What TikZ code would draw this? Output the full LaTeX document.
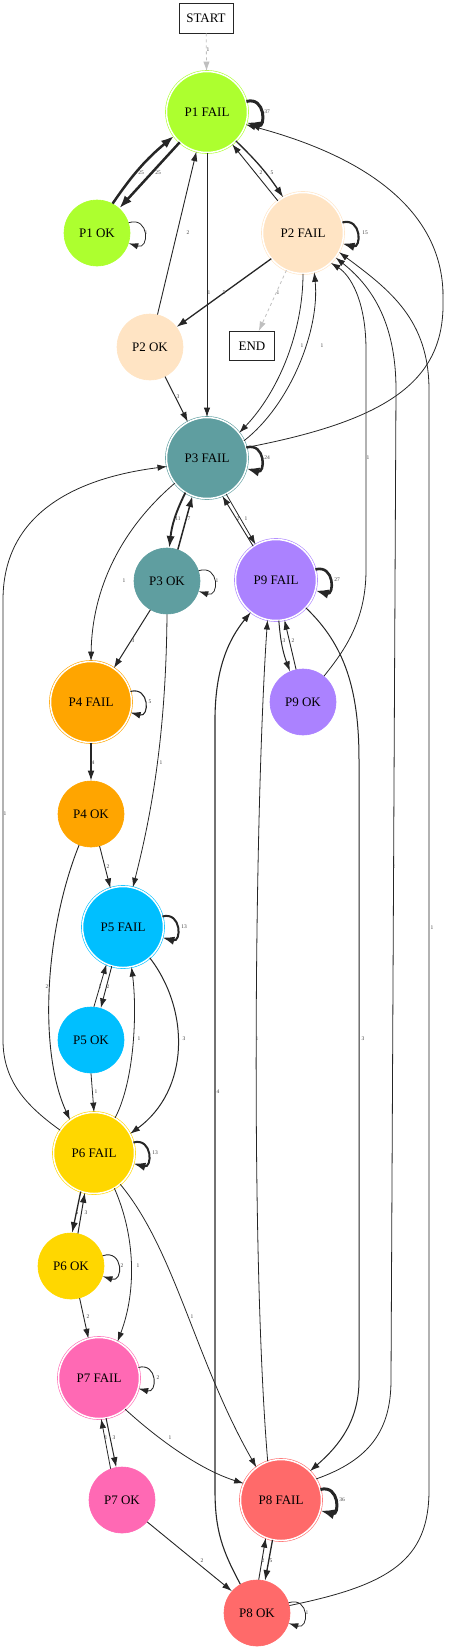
\documentclass[tikz,border=0pt]{standalone}
\usepackage{fontspec}
\setmainfont{Liberation Serif}
\usepackage{tikz}
\usetikzlibrary{arrows.meta}
\definecolor{cP1}{HTML}{ADFF2F}
\definecolor{cP2}{HTML}{FFE4C4}
\definecolor{cP3}{HTML}{5F9EA0}
\definecolor{cP4}{HTML}{FFA500}
\definecolor{cP5}{HTML}{00BFFF}
\definecolor{cP6}{HTML}{FFD700}
\definecolor{cP7}{HTML}{FF69B4}
\definecolor{cP8}{HTML}{FF6A6A}
\definecolor{cP9}{HTML}{AB82FF}
\tikzset{
  fail/.style={circle,minimum size=81pt,inner sep=0pt,fill=#1,draw=#1,double=white,double distance=1.5pt,line width=0.6pt,font=\fontsize{13}{15}\selectfont},
  ok/.style={circle,minimum size=66pt,inner sep=0pt,fill=#1,draw=#1,line width=0.6pt,font=\fontsize{13}{15}\selectfont},
  term/.style={rectangle,draw=black!85,line width=0.7pt,inner sep=0pt,font=\fontsize{13}{15}\selectfont},
  tr/.style={-{Latex[length=8pt 2,width=5pt 1.7]},draw=black!85,line width=#1pt},
  tr/.default=0.8,
  ghost/.style={-{Latex[length=8pt 2,width=5pt 1.7]},draw=black!25,dashed,line width=0.8pt},
  lbl/.style={font=\fontsize{5.5}{6}\selectfont,text=black!75,inner sep=0pt}
}
\begin{document}
\begin{tikzpicture}[x=1pt,y=1pt]
\useasboundingbox (0,0) rectangle (449,-1650);
\node[term,minimum width=54pt,minimum height=30pt](start)at(206,-18){START};
\node[fail=cP1](p1f)at(207,-112){P1 FAIL};
\node[ok=cP1](p1o)at(97,-233){P1 OK};
\node[fail=cP2](p2f)at(303,-233){P2 FAIL};
\node[ok=cP2](p2o)at(150,-347){P2 OK};
\node[term,minimum width=45pt,minimum height=29pt](endn)at(252,-346){END};
\node[fail=cP3](p3f)at(207,-458){P3 FAIL};
\node[ok=cP3](p3o)at(167,-581){P3 OK};
\node[fail=cP9](p9f)at(276,-580){P9 FAIL};
\node[fail=cP4](p4f)at(91,-702){P4 FAIL};
\node[ok=cP9](p9o)at(303,-702){P9 OK};
\node[ok=cP4](p4o)at(91,-814){P4 OK};
\node[fail=cP5](p5f)at(123,-927){P5 FAIL};
\node[ok=cP5](p5o)at(91,-1040){P5 OK};
\node[fail=cP6](p6f)at(94,-1153){P6 FAIL};
\node[ok=cP6](p6o)at(71,-1266){P6 OK};
\node[fail=cP7](p7f)at(99,-1378){P7 FAIL};
\node[ok=cP7](p7o)at(122,-1500){P7 OK};
\node[fail=cP8](p8f)at(281,-1500){P8 FAIL};
\node[ok=cP8](p8o)at(257,-1613){P8 OK};
\draw[ghost](start)--(p1f) node[lbl] at (208,-50){1};
\draw[tr=3](p1f.15) .. controls +(15:20) and +(-15:20) .. (p1f.-15) node[lbl] at (267,-112){37};
\draw[tr=2.5](p1o.62) to[bend left=8] (p1f.216) node[lbl] at (141,-173){25};
\draw[tr=2.5](p1f.228)--(p1o.48) node[lbl] at (158,-173){25};
\draw[tr](p1o.18) .. controls +(18:22) and +(-18:22) .. (p1o.-18) node[lbl] at (146,-233){1};
\draw[tr=0.9](p2o.77)--(p1f.255) node[lbl] at (188,-233){2};
\draw[tr](p1f.south)--(p3f.north) node[lbl] at (209,-293){1};
\draw[tr=0.9](p2f.128)--(p1f.308) node[lbl] at (261,-173){2};
\draw[tr=1.3](p1f.-45) to[bend left=6] (p2f.119) node[lbl] at (272,-173){5};
\draw[tr](p3f.15) .. controls (390,-420) and (445,-380) .. (443,-300) .. controls (445,-220) and (380,-160) .. (p1f.-18) node[lbl] at (443,-293){1};
\draw[tr=2.1](p2f.15) .. controls +(15:20) and +(-15:20) .. (p2f.-15) node[lbl] at (365,-233){15};
\draw[tr=1.3](p2f.219)--(p2o.37) node[lbl] at (224,-293){5};
\draw[ghost](p2f.246)--(endn) node[lbl] at (278,-293){1};
\draw[tr](p2f.-90) .. controls (303,-330) and (280,-390) .. (p3f.38) node[lbl] at (302,-346){1};
\draw[tr](p3f.25) .. controls (290,-405) and (320,-330) .. (p2f.286) node[lbl] at (322,-346){1};
\draw[tr](p9o.51) .. controls (345,-650) and (366,-620) .. (366,-570) -- (366,-350) .. controls (366,-300) and (350,-275) .. (p2f.-47) node[lbl] at (368,-458){1};
\draw[tr](p8f.31) .. controls (370,-1460) and (391,-1430) .. (391,-1380) -- (396,-390) .. controls (396,-320) and (370,-285) .. (p2f.-37) node[lbl] at (394,-867){1};
\draw[tr](p8o.13) .. controls (390,-1585) and (429,-1560) .. (429,-1490) -- (429,-390) .. controls (429,-320) and (390,-290) .. (p2f.-28) node[lbl] at (432,-928){1};
\draw[tr=1](p2o.-63)--(p3f.118) node[lbl] at (178,-397){3};
\draw[tr=2.5](p3f.15) .. controls +(15:20) and +(-15:20) .. (p3f.-15) node[lbl] at (267,-458){24};
\draw[tr=1.9](p3f.238) to[bend right=10] (p3o.86) node[lbl] at (178,-519){11};
\draw[tr=1.5](p3o.71)--(p3f.249) node[lbl] at (189,-519){7};
\draw[tr=0.9](p9f.124)--(p3f.-68) node[lbl] at (238,-519){2};
\draw[tr](p3f.-62)--(p9f.120) node[lbl] at (246,-519){1};
\draw[tr](p6f.146) .. controls (25,-1105) and (3,-1080) .. (3,-1040) -- (3,-600) .. controls (3,-500) and (100,-475) .. (p3f.192) node[lbl] at (5,-814){1};
\draw[tr](p3f.218) .. controls (120,-530) and (92,-590) .. (p4f.north) node[lbl] at (124,-581){1};
\draw[tr](p3o.18) .. controls +(18:22) and +(-18:22) .. (p3o.-18) node[lbl] at (217,-581){1};
\draw[tr=1](p3o.240)--(p4f.56) node[lbl] at (133,-641){3};
\draw[tr](p3o.south) .. controls (166,-740) and (150,-820) .. (p5f.76) node[lbl] at (161,-763){1};
\draw[tr=2.6](p9f.15) .. controls +(15:20) and +(-15:20) .. (p9f.-15) node[lbl] at (337,-580){27};
\draw[tr=1](p9f.-86) to[bend right=8] (p9o.113) node[lbl] at (284,-641){3};
\draw[tr=0.9](p9o.102)--(p9f.-78) node[lbl] at (293,-641){2};
\draw[tr=1.1](p8o.120) .. controls (222,-1550) and (215,-1530) .. (215,-1490) -- (215,-720) .. controls (215,-670) and (228,-640) .. (p9f.232) node[lbl] at (218,-1092){4};
\draw[tr](p8f.109) .. controls (250,-1250) and (255,-800) .. (p9f.258) node[lbl] at (257,-1039){1};
\draw[tr=1](p9f.-43) .. controls (345,-645) and (359,-690) .. (359,-760) -- (359,-1380) .. controls (359,-1420) and (340,-1445) .. (p8f.45) node[lbl] at (363,-1039){3};
\draw[tr=1.1](p4f.15) .. controls +(15:20) and +(-15:20) .. (p4f.-15) node[lbl] at (150,-702){5};
\draw[tr=1.1](p4f.south)--(p4o.north) node[lbl] at (93,-763){4};
\draw[tr=0.9](p4o.-75)--(p5f.108) node[lbl] at (108,-867){2};
\draw[tr=0.9](p4o.249) .. controls (45,-930) and (38,-1050) .. (p6f.126) node[lbl] at (47,-987){2};
\draw[tr=2](p5f.15) .. controls +(15:20) and +(-15:20) .. (p5f.-15) node[lbl] at (184,-927){13};
\draw[tr](p5o.85)--(p5f.246) node[lbl] at (100,-987){1};
\draw[tr=0.9](p5f.254)--(p5o.73) node[lbl] at (108,-987){2};
\draw[tr](p6f.59) .. controls (135,-1080) and (137,-1010) .. (p5f.-78) node[lbl] at (139,-1039){1};
\draw[tr=1](p5f.-49) .. controls (190,-1010) and (190,-1090) .. (p6f.28) node[lbl] at (184,-1039){3};
\draw[tr](p5o.south)--(p6f.north) node[lbl] at (96,-1092){1};
\draw[tr=2](p6f.15) .. controls +(15:20) and +(-15:20) .. (p6f.-15) node[lbl] at (155,-1153){13};
\draw[tr=1.3](p6f.251)--(p6o.88) node[lbl] at (77,-1213){5};
\draw[tr=1](p6o.78)--(p6f.257) node[lbl] at (86,-1213){3};
\draw[tr=0.9](p6o.18) .. controls +(18:22) and +(-18:22) .. (p6o.-18) node[lbl] at (122,-1266){2};
\draw[tr](p6f.-60) .. controls (135,-1235) and (137,-1290) .. (p7f.63) node[lbl] at (138,-1266){1};
\draw[tr](p6f.-50) .. controls (175,-1250) and (195,-1360) .. (p8f.127) node[lbl] at (192,-1317){1};
\draw[tr=0.9](p6o.-75)--(p7f.105) node[lbl] at (88,-1317){2};
\draw[tr=0.9](p7f.15) .. controls +(15:20) and +(-15:20) .. (p7f.-15) node[lbl] at (158,-1378){2};
\draw[tr=1](p7f.-80)--(p7o.100) node[lbl] at (114,-1438){3};
\draw[tr](p7o.110)--(p7f.-87) node[lbl] at (106,-1438){1};
\draw[tr](p7f.-50) .. controls (150,-1432) and (195,-1468) .. (p8f.156) node[lbl] at (170,-1438){1};
\draw[tr=0.9](p7o.-41)--(p8o.139) node[lbl] at (202,-1561){2};
\draw[tr=3](p8f.15) .. controls +(15:20) and +(-15:20) .. (p8f.-15) node[lbl] at (342,-1500){36};
\draw[tr=1.3](p8f.258)--(p8o.76) node[lbl] at (271,-1561){5};
\draw[tr=0.9](p8o.87)--(p8f.248) node[lbl] at (263,-1561){2};
\draw[tr](p8o.18) .. controls +(18:22) and +(-18:22) .. (p8o.-18) node[lbl] at (307,-1613){1};
\end{tikzpicture}
\end{document}
